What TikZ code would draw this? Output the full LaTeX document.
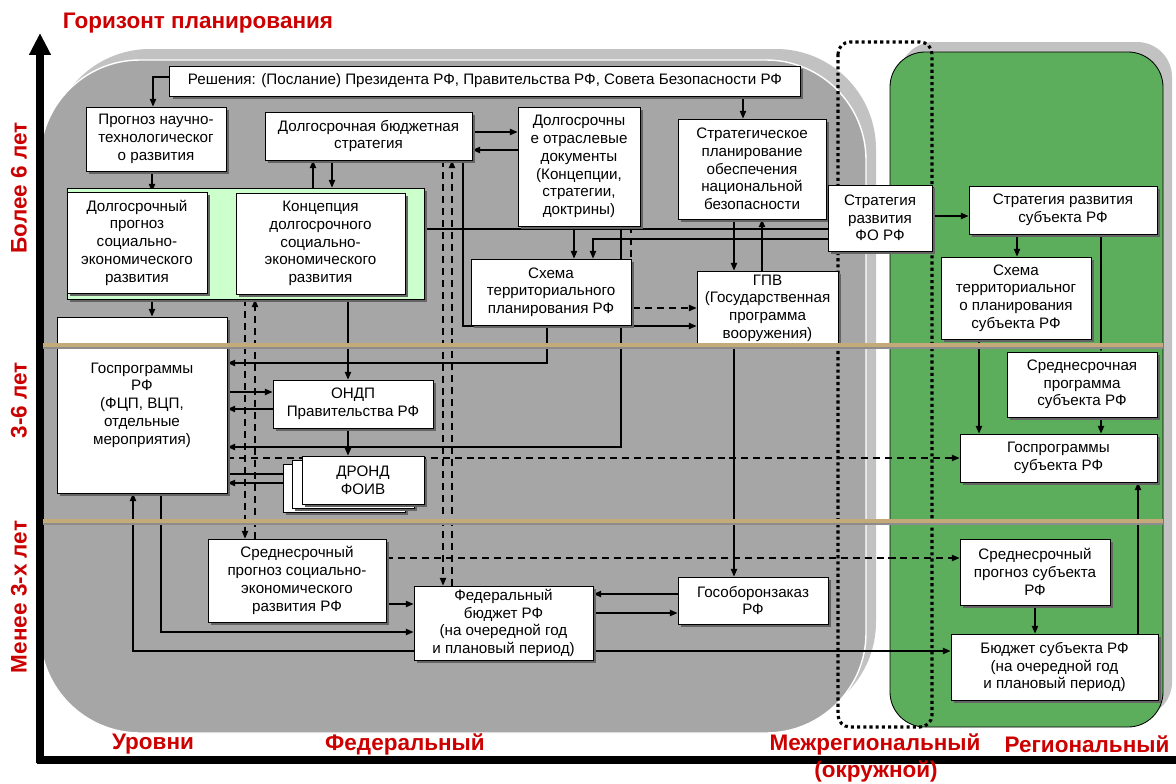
\documentclass[tikz,border=0pt]{standalone}
\usepackage{fontspec}
\setmainfont{Liberation Sans}
\usetikzlibrary{positioning,shadows,arrows.meta}
\definecolor{redlbl}{RGB}{204,0,0}
\definecolor{darkbg}{RGB}{166,166,166}
\definecolor{lightbg}{RGB}{194,194,194}
\definecolor{regreen}{RGB}{92,174,92}
\definecolor{palegreen}{RGB}{204,255,204}
\definecolor{horline}{RGB}{196,170,120}
\definecolor{shadowgray}{RGB}{100,100,100}
\pgfdeclarelayer{back}
\pgfdeclarelayer{lines}
\pgfdeclarelayer{front}
\pgfsetlayers{back,lines,main,front}

\begin{document}
\begin{tikzpicture}[x=0.025cm, y=-0.025cm,
  >={Triangle[length=5.5pt,width=4.5pt]},
  box/.style={draw, fill=white, line width=0.6pt, align=center, inner sep=1pt,
    font=\fontsize{10.8}{12.6}\selectfont,
    drop shadow={shadow xshift=2pt, shadow yshift=-2pt, fill=shadowgray, opacity=1}},
  arr/.style={->, line width=0.9pt},
  ln/.style={line width=0.9pt},
  dsh/.style={dash pattern=on 5pt off 3.5pt},
  lbl/.style={font=\fontsize{16}{19}\selectfont\bfseries, text=redlbl}]

\useasboundingbox (0,0) rectangle (1176,783);

% background areas
\begin{pgfonlayer}{back}
\fill[white] (0,0) rectangle (1176,783);
\fill[lightbg, rounded corners=2.5cm] (50,49) rectangle (876,722);
\draw[white, line width=1pt, fill=darkbg, rounded corners=2.5cm] (40,60) rectangle (866,733);
\fill[lightbg, rounded corners=0.875cm] (899,42) rectangle (1172,717);
\draw[line width=0.6pt, fill=regreen, rounded corners=0.875cm] (890,52) rectangle (1163,727);
\draw[line width=2.2pt, dash pattern=on 2.2pt off 2.2pt, rounded corners=0.3cm] (838,42) rectangle (932,727);
\end{pgfonlayer}

% federal level
\node[box, minimum width=15.75cm, minimum height=0.75cm] (resh) at (485,81) {Решения: (Послание) Президента РФ, Правительства РФ, Совета Безопасности РФ};
\node[box, minimum width=3.5cm, minimum height=1.6cm] (prog) at (156,139) {Прогноз научно-\\технологическог\\о развития};
\node[box, minimum width=5.175cm, minimum height=1.2cm] (bst) at (368.5,136) {Долгосрочная бюджетная\\стратегия};
\node[box, minimum width=3.05cm, minimum height=2.975cm] (otr) at (579,166.5) {Долгосрочны\\е отраслевые\\документы\\(Концепции,\\стратегии,\\доктрины)};
\node[box, minimum width=3.7cm, minimum height=2.5cm] (snb) at (752,169) {Стратегическое\\планирование\\обеспечения\\национальной\\безопасности};
\node[box, fill=palegreen, minimum width=8.925cm, minimum height=2.775cm] (panel) at (245.5,243.5) {};
\node[box, minimum width=3.5cm, minimum height=2.525cm] (dlp) at (137,242.5) {Долгосрочный\\прогноз\\социально-\\экономического\\развития};
\node[box, minimum width=4.225cm, minimum height=2.525cm] (konc) at (320.5,243.5) {Концепция\\долгосрочного\\социально-\\экономического\\развития};
\node[box, minimum width=4.25cm, minimum height=4.4cm] (gp) at (142,405) {Госпрограммы\\РФ\\(ФЦП, ВЦП,\\отдельные\\мероприятия)};
\node[box, minimum width=4cm, minimum height=1.2cm] (ondp) at (353,404) {ОНДП\\Правительства РФ};
\node[box, minimum width=3.05cm, minimum height=1.2cm] (dr3) at (344,488) {};
\node[box, minimum width=3.05cm, minimum height=1.2cm] (dr2) at (353.5,484) {};
\node[box, minimum width=3.05cm, minimum height=1.2cm] (dr) at (363,480) {ДРОНД\\ФОИВ};
\node[box, minimum width=4cm, minimum height=1.65cm] (sxr) at (551,292) {Схема\\территориального\\планирования РФ};
\node[box, minimum width=3.525cm, minimum height=1.85cm] (gpv) at (767.5,308) {ГПВ\\(Государственная\\программа\\вооружения)};
\node[box, minimum width=4.45cm, minimum height=2.075cm] (spr) at (297,580.5) {Среднесрочный\\прогноз социально-\\экономического\\развития РФ};
\node[box, minimum width=4.475cm, minimum height=1.85cm] (fb) at (503.5,623) {Федеральный\\бюджет РФ\\(на очередной год\\и плановый период)};
\node[box, minimum width=3.75cm, minimum height=1.175cm] (goz) at (753,600.5) {Гособоронзаказ\\РФ};

% interregional and regional levels
\node[box, minimum width=2.6cm, minimum height=1.65cm] (fo) at (880,218) {Стратегия\\развития\\ФО РФ};
\node[box, minimum width=4.7cm, minimum height=1.2cm] (srs) at (1063,210) {Стратегия развития\\субъекта РФ};
\node[box, minimum width=3.75cm, minimum height=2.05cm] (sxs) at (1016,298) {Схема\\территориальног\\о планирования\\субъекта РФ};
\node[box, minimum width=3.75cm, minimum height=1.625cm] (sps) at (1082,384.5) {Среднесрочная\\программа\\субъекта РФ};
\node[box, minimum width=4.925cm, minimum height=1.2cm] (gps) at (1058.5,458) {Госпрограммы\\субъекта РФ};
\node[box, minimum width=3.75cm, minimum height=1.65cm] (spsub) at (1035,572) {Среднесрочный\\прогноз субъекта\\РФ};
\node[box, minimum width=5.175cm, minimum height=1.65cm] (bs) at (1054.5,667) {Бюджет субъекта РФ\\(на очередной год\\и плановый период)};

\begin{pgfonlayer}{lines}
\draw[arr] (resh.west |- 0,77) -| (prog.north -| 153,0);
\draw[arr] (prog.south -| 152,0) -- (dlp.north -| 152,0);
\draw[arr] (dlp.east |- 0,243) -- (konc.west |- 0,243);
\draw[arr] (panel.south -| 152,0) -- (gp.north -| 152,0);
\draw[arr] (panel.north -| 313,0) -- (bst.south -| 313,0);
\draw[arr] (bst.south -| 332,0) -- (panel.north -| 332,0);
\draw[arr] (bst.east |- 0,132) -- (otr.west |- 0,132);
\draw[arr] (otr.west |- 0,150) -- (bst.east |- 0,150);
\draw[arr] (resh.south -| 743,0) -- (snb.north -| 743,0);
\draw[arr] (snb.south -| 734,0) -- (gpv.north -| 734,0);
\draw[arr] (gpv.north -| 762,0) -- (snb.south -| 762,0);
\draw[ln] (panel.east |- 0,229) -- (fo.west |- 0,229);
\draw[arr] (fo.west |- 0,239) -| (sxr.north -| 593,0);
\draw[arr] (otr.south -| 574,0) -- (sxr.north -| 574,0);
\draw[arr] (otr.south -| 621,0) |- (gp.east |- 0,447);
\draw[arr,dsh] (otr.south -| 631,0) |- (gpv.west |- 0,308);
\draw[arr] (sxr.south -| 547,0) |- (gp.east |- 0,363);
\draw[arr] (bst.south -| 463,0) |- (gpv.west |- 0,326);
\draw[arr] (fo.east |- 0,216) -- (srs.west |- 0,216);
\draw[arr] (panel.south -| 348,0) -- (ondp.north -| 348,0);
\draw[arr] (ondp.south -| 348,0) -- (dr.north -| 348,0);
\draw[arr] (gp.east |- 0,392) -- (ondp.west |- 0,392);
\draw[arr] (ondp.west |- 0,409) -- (gp.east |- 0,409);
\draw[arr] (gp.east |- 0,474) -- (dr2.west |- 0,474);
\draw[arr] (dr2.west |- 0,483) -- (gp.east |- 0,483);
\draw[arr,dsh] (gp.east |- 0,458) -- (gps.west |- 0,458);
\draw[arr,dsh] (panel.south -| 245,0) -- (spr.north -| 245,0);
\draw[arr,dsh] (spr.north -| 255,0) -- (panel.south -| 255,0);
\draw[arr,dsh] (bst.south -| 443,0) -- (fb.north -| 443,0);
\draw[arr,dsh] (fb.north -| 452,0) -- (bst.south -| 452,0);
% regional
\draw[arr] (srs.south -| 1017,0) -- (sxs.north -| 1017,0);
\draw[arr] (srs.south -| 1101,0) -- (sps.north -| 1101,0);
\draw[arr] (sxs.south -| 979,0) -- (gps.north -| 979,0);
\draw[arr] (sps.south -| 1101,0) -- (gps.north -| 1101,0);
% budgets
\draw[arr] (gpv.south -| 734,0) -- (goz.north -| 734,0);
\draw[arr] (goz.west |- 0,594) -- (fb.east |- 0,594);
\draw[arr] (fb.east |- 0,613) -- (goz.west |- 0,613);
\draw[arr] (fb.east |- 0,651) -- (bs.west |- 0,651);
\draw[arr] (fb.west |- 0,651) -| (gp.south -| 133,0);
\draw[arr] (gp.south -| 161,0) |- (fb.west |- 0,632);
\draw[arr] (spr.east |- 0,604) -- (fb.west |- 0,604);
\draw[arr,dsh] (spr.east |- 0,558) -- (spsub.west |- 0,558);
\draw[arr] (spsub.south -| 1035,0) -- (bs.north -| 1035,0);
\draw[arr] (bs.north -| 1138,0) -- (gps.south -| 1138,0);
\end{pgfonlayer}

% horizon borders
\begin{pgfonlayer}{front}
\foreach \yy in {345,521} {
  \draw[line width=1.2pt, black!45] (43,\yy+3) -- (1163,\yy+3);
  \draw[line width=2.6pt, horline] (43,\yy) -- (1163,\yy);
}
\end{pgfonlayer}

% axes
\draw[line width=5pt, -{Triangle[length=15.5pt,width=14.5pt]}] (40,763) -- (40,33);
\draw[line width=5pt] (37,760) -- (1176,760);

\node[lbl, anchor=west] (horizon) at (58,23) {Горизонт планирования};
\node[lbl, rotate=90] (more6) at (19,188) {Более 6 лет};
\node[lbl, rotate=90] (mid36) at (19,400) {3-6 лет};
\node[lbl, rotate=90] (less3) at (19,597) {Менее 3-х лет};
\node[lbl] (levels) at (153,744) {Уровни};
\node[lbl] (fed) at (405,744) {Федеральный};
\node[lbl] (mezh) at (875,744) {Межрегиональный};
\node[lbl] (okr) at (876,771) {(окружной)};
\node[lbl] (reg) at (1087,744) {Региональный};

\end{tikzpicture}
\end{document}
